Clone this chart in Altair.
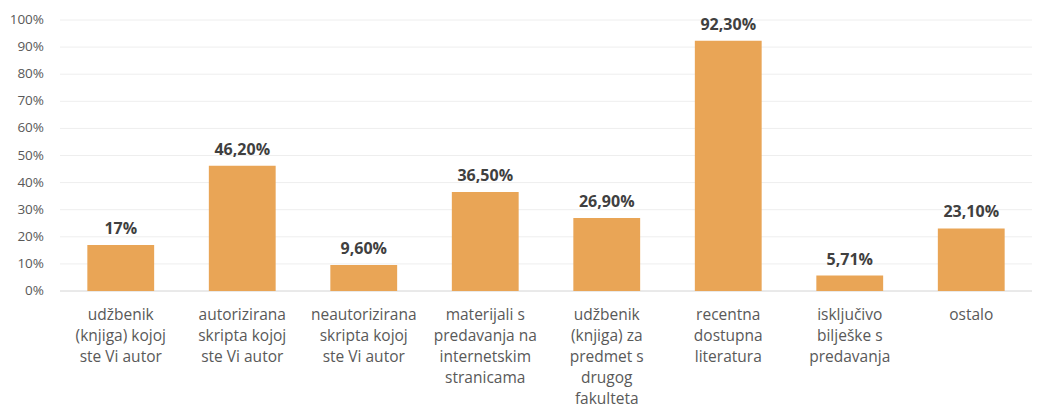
import altair as alt
import pandas as pd

categories = [
    "udžbenik\n(knjiga) kojoj\nste Vi autor",
    "autorizirana\nskripta kojoj\nste Vi autor",
    "neautorizirana\nskripta kojoj\nste Vi autor",
    "materijali s\npredavanja na\ninternetskim\nstranicama",
    "udžbenik\n(knjiga) za\npredmet s\ndrugog\nfakulteta",
    "recentna\ndostupna\nliteratura",
    "isključivo\nbilješke s\npredavanja",
    "ostalo",
]
values = [17, 46.2, 9.6, 36.5, 26.9, 92.3, 5.71, 23.1]
value_labels = ["17%", "46,20%", "9,60%", "36,50%", "26,90%", "92,30%", "5,71%", "23,10%"]
y_ticks = [0, 10, 20, 30, 40, 50, 60, 70, 80, 90, 100]
y_tick_labels = ["0%", "10%", "20%", "30%", "40%", "50%", "60%", "70%", "80%", "90%", "100%"]

df = pd.DataFrame({"cat": categories, "val": values, "lab": value_labels})
ticks_df = pd.DataFrame({"tick": y_ticks, "tlab": y_tick_labels})

FONT = "Open Sans"
yscale = alt.Scale(domain=[0, 100], nice=False)

x = alt.X(
    "cat:N",
    sort=None,
    title=None,
    scale=alt.Scale(paddingInner=0.45, paddingOuter=0.225),
    axis=alt.Axis(
        labelAngle=0,
        labelExpr="split(datum.label, '\\n')",
        labelLineHeight=21,
        labelFont=FONT,
        labelFontSize=15.5,
        labelColor="#595959",
        labelPadding=16,
        labelBaseline="top",
        ticks=False,
        grid=False,
        domain=False,
        labelLimit=200,
    ),
)
y = alt.Y("val:Q", title=None, scale=yscale, axis=None)

grid = alt.Chart(ticks_df).mark_rule(strokeWidth=1).encode(
    y=alt.Y("tick:Q", scale=yscale, axis=None),
    color=alt.condition("datum.tick === 0", alt.value("#D4D4D4"), alt.value("#EEEEEE")),
)
tick_text = alt.Chart(ticks_df).mark_text(
    align="right", baseline="middle", font=FONT, fontSize=13.5, color="#595959"
).encode(
    y=alt.Y("tick:Q", scale=yscale, axis=None),
    x=alt.value(-16),
    text="tlab:N",
)

base = alt.Chart(df).encode(x=x, y=y)
bars = base.mark_bar(color="#E9A556")
text = base.mark_text(
    baseline="alphabetic", dy=-11, font=FONT, fontSize=16, fontWeight="bold", color="#404040"
).encode(text="lab:N")

chart = (
    alt.layer(grid, bars, text, tick_text)
    .properties(
        width=972,
        height=271,
        background="white",
        autosize=alt.AutoSizeParams(type="none"),
        padding={"left": 52, "top": 12, "right": 0, "bottom": 116},
    )
    .configure_view(strokeWidth=0, stroke="transparent")
)

chart.save("out.html", embed_options={"renderer": "svg", "actions": False})
